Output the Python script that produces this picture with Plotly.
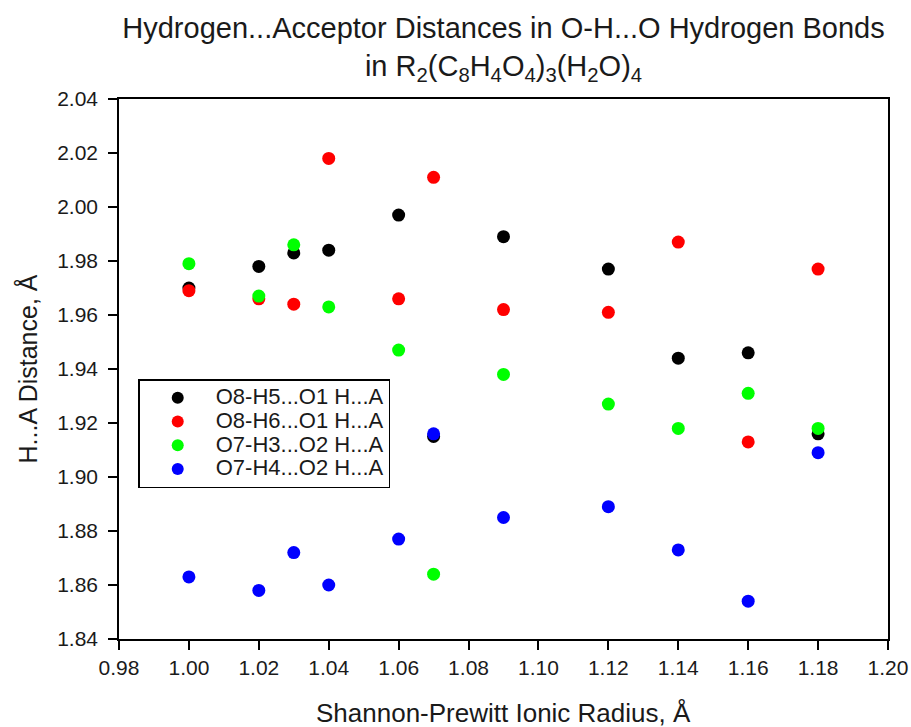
import plotly.graph_objects as go

# Shannon-Prewitt ionic radius of R (Å)
radius = [1.00, 1.02, 1.03, 1.04, 1.06, 1.07, 1.09, 1.12, 1.14, 1.16, 1.18]

# H...A distances (Å) for each O-H...O hydrogen bond
o8_h5_o1 = [1.970, 1.978, 1.983, 1.984, 1.997, 1.915, 1.989, 1.977, 1.944, 1.946, 1.916]
o8_h6_o1 = [1.969, 1.966, 1.964, 2.018, 1.966, 2.011, 1.962, 1.961, 1.987, 1.913, 1.977]
o7_h3_o2 = [1.979, 1.967, 1.986, 1.963, 1.947, 1.864, 1.938, 1.927, 1.918, 1.931, 1.918]
o7_h4_o2 = [1.863, 1.858, 1.872, 1.860, 1.877, 1.916, 1.885, 1.889, 1.873, 1.854, 1.909]

series_names = ["O8-H5...O1 H...A", "O8-H6...O1 H...A", "O7-H3...O2 H...A", "O7-H4...O2 H...A"]
series_values = [o8_h5_o1, o8_h6_o1, o7_h3_o2, o7_h4_o2]
series_colors = ["#000000", "#ff0000", "#00ff00", "#0000ff"]

x_ticks = [0.98, 1.00, 1.02, 1.04, 1.06, 1.08, 1.10, 1.12, 1.14, 1.16, 1.18, 1.20]
y_ticks = [1.84, 1.86, 1.88, 1.90, 1.92, 1.94, 1.96, 1.98, 2.00, 2.02, 2.04]

FONT = "Liberation Sans, Arial, sans-serif"
TEXT = "#1a1a1a"

fig = go.Figure()
for name, vals, col in zip(series_names, series_values, series_colors):
    fig.add_trace(go.Scatter(
        x=radius, y=vals, mode="markers",
        # legend rows are spaced by the legend font; the label itself is drawn larger
        name=f'<span style="font-size:22px">{name}</span>',
        marker=dict(size=13, color=col, line=dict(width=0)),
    ))

axis_common = dict(
    showgrid=False, zeroline=False,
    showline=True, linecolor="#000000", linewidth=1.5, mirror=True,
    ticks="outside", ticklen=9, tickwidth=1.5, tickcolor="#000000",
    tickfont=dict(family=FONT, size=21, color=TEXT),
)

fig.update_layout(
    width=911, height=727,
    margin=dict(l=119, r=23, t=99, b=88),
    paper_bgcolor="white", plot_bgcolor="white",
    font=dict(family=FONT, color=TEXT),
    title=dict(
        text="Hydrogen...Acceptor Distances in O-H...O Hydrogen Bonds<br>"
             "in R<sub>2</sub>(C<sub>8</sub>H<sub>4</sub>O<sub>4</sub>)<sub>3</sub>"
             "(H<sub>2</sub>O)<sub>4</sub>",
        font=dict(family=FONT, size=29, color=TEXT),
        x=0.5, xref="paper", xanchor="center",
        y=0.948, yanchor="top",
    ),
    xaxis=dict(
        range=[0.98, 1.20], tickvals=x_ticks,
        ticktext=[f"{v:.2f}" for v in x_ticks],
        automargin=False,
        **axis_common,
    ),
    yaxis=dict(
        range=[1.84, 2.04], tickvals=y_ticks,
        ticktext=[f"{v:.2f}" for v in y_ticks],
        ticklabelstandoff=6, automargin=False,
        title=dict(text="H...A Distance, Å",
                   font=dict(family=FONT, size=25, color=TEXT), standoff=12),
        **axis_common,
    ),
    legend=dict(
        x=0.025, y=0.481, xanchor="left", yanchor="top",
        bgcolor="white", bordercolor="#000000", borderwidth=1.5,
        font=dict(family=FONT, size=16, color=TEXT),
        itemsizing="constant", itemwidth=66,
    ),
    annotations=[dict(
        text="Shannon-Prewitt Ionic Radius, Å",
        xref="paper", yref="paper", x=0.5, y=0,
        xanchor="center", yanchor="middle", yshift=-74,
        showarrow=False, font=dict(family=FONT, size=26, color=TEXT),
    )],
)

fig.write_html("out.html")
